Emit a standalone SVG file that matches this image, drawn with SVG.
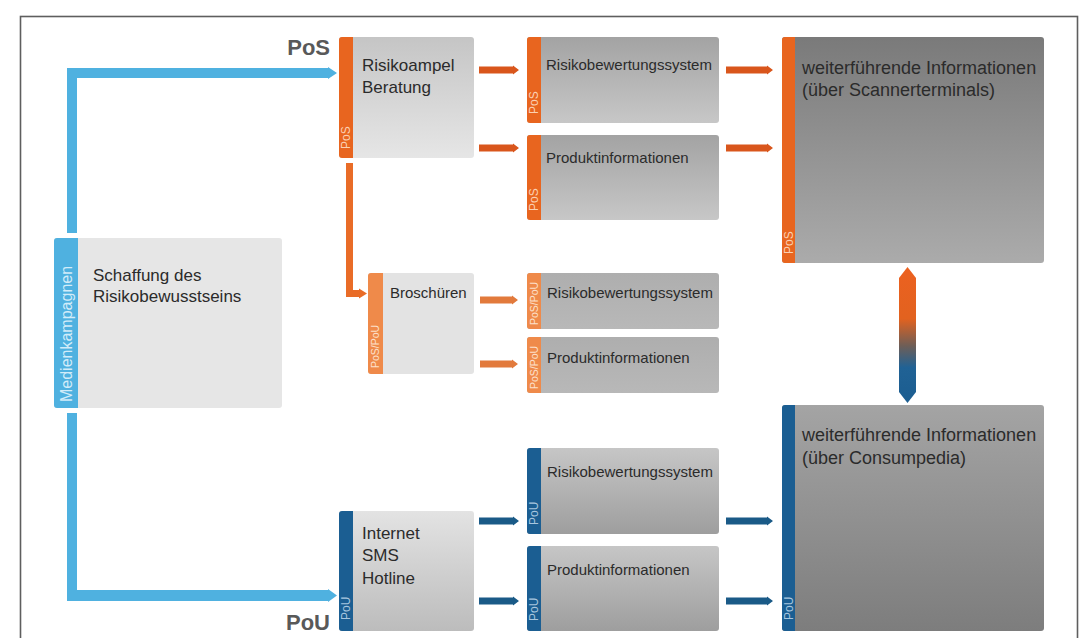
<svg xmlns="http://www.w3.org/2000/svg" width="1092" height="638" viewBox="0 0 1092 638">
<defs>
<linearGradient id="gLightDown" x1="0" y1="0" x2="0" y2="1"><stop offset="0" stop-color="#c5c5c5"/><stop offset="1" stop-color="#e6e6e6"/></linearGradient>
<linearGradient id="gLightUp" x1="0" y1="0" x2="0" y2="1"><stop offset="0" stop-color="#e3e3e3"/><stop offset="1" stop-color="#bcbcbc"/></linearGradient>
<linearGradient id="gMidDown" x1="0" y1="0" x2="0" y2="1"><stop offset="0" stop-color="#a3a3a3"/><stop offset="1" stop-color="#c7c7c7"/></linearGradient>
<linearGradient id="gMidUp" x1="0" y1="0" x2="0" y2="1"><stop offset="0" stop-color="#c6c6c6"/><stop offset="1" stop-color="#9e9e9e"/></linearGradient>
<linearGradient id="gMidFlat" x1="0" y1="0" x2="0" y2="1"><stop offset="0" stop-color="#aeaeae"/><stop offset="1" stop-color="#b8b8b8"/></linearGradient>
<linearGradient id="gDarkDown" x1="0" y1="0" x2="0" y2="1"><stop offset="0" stop-color="#7a7a7a"/><stop offset="1" stop-color="#ababab"/></linearGradient>
<linearGradient id="gDarkUp" x1="0" y1="0" x2="0" y2="1"><stop offset="0" stop-color="#a4a4a4"/><stop offset="1" stop-color="#7d7d7d"/></linearGradient>
<linearGradient id="gDouble" x1="0" y1="0" x2="0" y2="1"><stop offset="0" stop-color="#ec6120"/><stop offset="0.38" stop-color="#e2621f"/><stop offset="0.58" stop-color="#6e5e57"/><stop offset="0.74" stop-color="#206295"/><stop offset="1" stop-color="#1b5d90"/></linearGradient>
<style>
.t{font-family:"Liberation Sans",Arial,sans-serif;fill:#2b2b2b}
.big{font-size:18px}
.mid{font-size:17px}
.sm{font-size:15px}
.br{font-size:15px}
.vl{font-family:"Liberation Sans",Arial,sans-serif;font-size:12px}
.vs{font-family:"Liberation Sans",Arial,sans-serif;font-size:10.5px}
.lab{font-family:"Liberation Sans",Arial,sans-serif;font-size:22px;font-weight:bold;fill:#595959}
.or{fill:#e8651f}
.orl{fill:#ef8a4a}
.bl{fill:#1b5e92}
.lb{fill:#4fb1e0}
.vor{fill:#fbd0b2}
.vorl{fill:#fde0cb}
.vbl{fill:#a8c6de}
.vlb{fill:#d2ecf9}
.aor{fill:#d9561c}
.aorl{fill:#e27a3c}
.abl{fill:#1a5a87}
</style>
</defs>
<rect x="0" y="0" width="1092" height="638" fill="#ffffff"/>
<rect x="20.5" y="16.5" width="1057" height="700" fill="none" stroke="#5e5e5e" stroke-width="1.6"/>

<text class="lab" x="330" y="55" text-anchor="end">PoS</text>
<text class="lab" x="330" y="630" text-anchor="end">PoU</text>

<g id="connectors">
<polygon class="lb" points="67,233 67,68 328,68 328,67 337,73 328,79 328,78 77,78 77,233"/>
<polygon class="lb" points="67,413 77,413 77,590 328,590 328,589 337,595.5 328,602 328,601 67,601"/>
<polygon fill="#e96c27" points="346,163 353,163 353,290 359,290 359,288.5 367,293.5 359,298.5 359,297 346,297"/>
<polygon class="aor" points="479,66.5 513,66.5 513,65.5 519,70 513,74.5 513,73.5 479,73.5"/>
<polygon class="aor" points="479,144.5 513,144.5 513,143.5 519,148 513,152.5 513,151.5 479,151.5"/>
<polygon class="aor" points="726,66.5 767,66.5 767,65.5 773,70 767,74.5 767,73.5 726,73.5"/>
<polygon class="aor" points="726,144.5 767,144.5 767,143.5 773,148 767,152.5 767,151.5 726,151.5"/>
<polygon class="aorl" points="480,296.5 512,296.5 512,295.5 518,300 512,304.5 512,303.5 480,303.5"/>
<polygon class="aorl" points="480,360.5 512,360.5 512,359.5 518,364 512,368.5 512,367.5 480,367.5"/>
<polygon class="abl" points="479,517.5 513,517.5 513,516.5 519,521 513,525.5 513,524.5 479,524.5"/>
<polygon class="abl" points="479,597.5 513,597.5 513,596.5 519,601 513,605.5 513,604.5 479,604.5"/>
<polygon class="abl" points="726,517.5 767,517.5 767,516.5 773,521 767,525.5 767,524.5 726,524.5"/>
<polygon class="abl" points="726,597.5 767,597.5 767,596.5 773,601 767,605.5 767,604.5 726,604.5"/>
<polygon fill="url(#gDouble)" points="907.5,267 916,278 916,392 907.5,403 899,392 899,278"/>
</g>

<g id="n-medien">
<rect x="54" y="238" width="228" height="170" rx="3" fill="#e6e6e6"/>
<path class="lb" d="M57,238 H78 V408 H57 Q54,408 54,405 V241 Q54,238 57,238 Z"/>
<text class="vl vlb" style="font-size:16px" transform="translate(71.7,402) rotate(-90)">Medienkampagnen</text>
<text class="t mid" x="93" y="281">Schaffung des</text>
<text class="t mid" x="93" y="302">Risikobewusstseins</text>
</g>

<g id="n-risikoampel">
<rect x="339" y="37" width="135" height="121" rx="3" fill="url(#gLightDown)"/>
<path class="or" d="M342,37 H353 V158 H342 Q339,158 339,155 V40 Q339,37 342,37 Z"/>
<text class="vl vor" transform="translate(350.3,149) rotate(-90)">PoS</text>
<text class="t mid" x="362" y="71">Risikoampel</text>
<text class="t mid" x="362" y="93">Beratung</text>
</g>

<g id="n-broschueren">
<rect x="368" y="273" width="106" height="101" rx="3" fill="#e3e3e3"/>
<path class="orl" d="M371,273 H383 V374 H371 Q368,374 368,371 V276 Q368,273 371,273 Z"/>
<text class="vs vorl" transform="translate(379.2,368) rotate(-90)">PoS/PoU</text>
<text class="t br" x="390" y="298">Broschüren</text>
</g>

<g id="n-internet">
<rect x="339" y="511" width="135" height="120" rx="3" fill="url(#gLightUp)"/>
<path class="bl" d="M342,511 H353 V631 H342 Q339,631 339,628 V514 Q339,511 342,511 Z"/>
<text class="vl vbl" transform="translate(350.3,620) rotate(-90)">PoU</text>
<text class="t mid" x="362" y="539">Internet</text>
<text class="t mid" x="362" y="561">SMS</text>
<text class="t mid" x="362" y="584">Hotline</text>
</g>

<g id="n-rbs-pos">
<rect x="527" y="37" width="192" height="86" rx="3" fill="url(#gMidDown)"/>
<path class="or" d="M530,37 H541 V123 H530 Q527,123 527,120 V40 Q527,37 530,37 Z"/>
<text class="vl vor" transform="translate(538.3,114) rotate(-90)">PoS</text>
<text class="t sm" x="546" y="70">Risikobewertungssystem</text>
</g>

<g id="n-pi-pos">
<rect x="527" y="135" width="192" height="85" rx="3" fill="url(#gMidDown)"/>
<path class="or" d="M530,135 H541 V220 H530 Q527,220 527,217 V138 Q527,135 530,135 Z"/>
<text class="vl vor" transform="translate(538.3,211) rotate(-90)">PoS</text>
<text class="t sm" x="546" y="163">Produktinformationen</text>
</g>

<g id="n-rbs-pospou">
<rect x="527" y="273" width="192" height="56" rx="3" fill="url(#gMidFlat)"/>
<path class="orl" d="M530,273 H541 V329 H530 Q527,329 527,326 V276 Q527,273 530,273 Z"/>
<text class="vs vorl" transform="translate(537.7,325) rotate(-90)">PoS/PoU</text>
<text class="t sm" x="547" y="298">Risikobewertungssystem</text>
</g>

<g id="n-pi-pospou">
<rect x="527" y="337" width="192" height="56" rx="3" fill="url(#gMidFlat)"/>
<path class="orl" d="M530,337 H541 V393 H530 Q527,393 527,390 V340 Q527,337 530,337 Z"/>
<text class="vs vorl" transform="translate(537.7,389) rotate(-90)">PoS/PoU</text>
<text class="t sm" x="547" y="363">Produktinformationen</text>
</g>

<g id="n-rbs-pou">
<rect x="527" y="448" width="192" height="86" rx="3" fill="url(#gMidUp)"/>
<path class="bl" d="M530,448 H541 V534 H530 Q527,534 527,531 V451 Q527,448 530,448 Z"/>
<text class="vl vbl" transform="translate(538.3,525) rotate(-90)">PoU</text>
<text class="t sm" x="547" y="477">Risikobewertungssystem</text>
</g>

<g id="n-pi-pou">
<rect x="527" y="546" width="192" height="85" rx="3" fill="url(#gMidUp)"/>
<path class="bl" d="M530,546 H541 V631 H530 Q527,631 527,628 V549 Q527,546 530,546 Z"/>
<text class="vl vbl" transform="translate(538.3,621) rotate(-90)">PoU</text>
<text class="t sm" x="547" y="575">Produktinformationen</text>
</g>

<g id="n-info-scanner">
<rect x="782" y="37" width="262" height="226" rx="3" fill="url(#gDarkDown)"/>
<path class="or" d="M785,37 H795 V263 H785 Q782,263 782,260 V40 Q782,37 785,37 Z"/>
<text class="vl vor" transform="translate(792.8,254) rotate(-90)">PoS</text>
<text class="t big" x="802" y="74">weiterführende Informationen</text>
<text class="t big" x="802" y="96">(über Scannerterminals)</text>
</g>

<g id="n-info-consumpedia">
<rect x="782" y="405" width="262" height="226" rx="3" fill="url(#gDarkUp)"/>
<path class="bl" d="M785,405 H795 V631 H785 Q782,631 782,628 V408 Q782,405 785,405 Z"/>
<text class="vl vbl" transform="translate(792.8,620) rotate(-90)">PoU</text>
<text class="t big" x="802" y="441">weiterführende Informationen</text>
<text class="t big" x="802" y="464">(über Consumpedia)</text>
</g>
</svg>
